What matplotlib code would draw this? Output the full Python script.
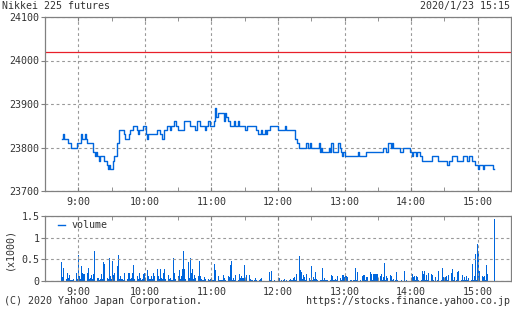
import numpy as np
from matplotlib import pyplot as plt
from matplotlib.lines import Line2D

plt.rcParams['font.family'] = 'DejaVu Sans Mono'
plt.rcParams['font.size'] = 7.2

# price steps (time, price)
price_times = ['8:45', '8:46', '8:47', '8:51', '8:53', '8:59', '9:02', '9:03', '9:06', '9:07',
               '9:08', '9:13', '9:15', '9:16', '9:17', '9:19', '9:20', '9:23', '9:26', '9:27',
               '9:28', '9:29', '9:31', '9:32', '9:35', '9:37', '9:41', '9:42', '9:46', '9:47',
               '9:49', '9:53', '9:54', '9:55', '9:58', '10:01', '10:02', '10:03', '10:11', '10:14',
               '10:15', '10:17', '10:20', '10:23', '10:24', '10:26', '10:28', '10:30', '10:35', '10:41',
               '10:45', '10:47', '10:50', '10:54', '10:55', '10:57', '10:59', '11:02', '11:03', '11:04',
               '11:06', '11:11', '11:12', '11:13', '11:15', '11:17', '11:20', '11:21', '11:24', '11:25',
               '11:30', '11:32', '11:40', '11:42', '11:45', '11:46', '11:48', '11:49', '11:50', '11:53',
               '12:00', '12:06', '12:07', '12:15', '12:17', '12:19', '12:25', '12:27', '12:29', '12:30',
               '12:37', '12:38', '12:39', '12:40', '12:46', '12:47', '12:48', '12:50', '12:54', '12:56',
               '12:57', '12:58', '12:59', '13:00', '13:12', '13:13', '13:19', '13:35', '13:37', '13:39',
               '13:42', '13:43', '13:44', '13:50', '13:53', '13:59', '14:01', '14:02', '14:04', '14:05',
               '14:08', '14:10', '14:19', '14:24', '14:32', '14:34', '14:37', '14:41', '14:47', '14:50',
               '14:52', '14:55', '14:58', '15:00', '15:01', '15:05', '15:06', '15:14', '15:15']
prices = [23820, 23830, 23820, 23810, 23800, 23810, 23830, 23820, 23830, 23820,
          23810, 23790, 23780, 23790, 23780, 23770, 23780, 23770, 23760, 23750,
          23760, 23750, 23770, 23780, 23810, 23840, 23830, 23820, 23830, 23840,
          23850, 23840, 23830, 23840, 23850, 23830, 23820, 23830, 23840, 23830,
          23820, 23840, 23850, 23840, 23850, 23860, 23850, 23840, 23860, 23850,
          23840, 23860, 23850, 23840, 23850, 23860, 23850, 23860, 23890, 23870,
          23880, 23860, 23880, 23870, 23860, 23850, 23860, 23850, 23860, 23850,
          23840, 23850, 23840, 23830, 23840, 23830, 23840, 23830, 23840, 23850,
          23840, 23850, 23840, 23820, 23810, 23800, 23810, 23800, 23810, 23800,
          23810, 23790, 23800, 23790, 23800, 23790, 23810, 23790, 23810, 23800,
          23790, 23780, 23790, 23780, 23790, 23780, 23790, 23800, 23790, 23810,
          23800, 23810, 23800, 23790, 23800, 23790, 23780, 23790, 23780, 23790,
          23780, 23770, 23780, 23770, 23760, 23770, 23780, 23770, 23780, 23770,
          23780, 23770, 23760, 23750, 23760, 23750, 23760, 23750, 23750]
prev_close = 24020

# volume per minute (x1000), rows of 15 minutes starting 8:45
vol_rows = [
    [0.44, 0.10, 0.29, 0.19, 0.05, 0.18, 0.08, 0.13, 0.03, 0.02, 0.03, 0.04, 0.10, 0.19, 0.05],  # 8:45
    [0.60, 0.12, 0.04, 0.35, 0.19, 0.16, 0.16, 0.16, 0.19, 0.31, 0.05, 0.08, 0.13, 0.05, 0.16],  # 9:00
    [0.70, 0.31, 0.08, 0.08, 0.03, 0.04, 0.16, 0.05, 0.44, 0.39, 0.05, 0.08, 0.04, 0.52, 0.12],  # 9:15
    [0.05, 0.47, 0.13, 0.19, 0.06, 0.35, 0.60, 0.04, 0.12, 0.04, 0.04, 0.03, 0.19, 0.12, 0.05],  # 9:30
    [0.19, 0.19, 0.04, 0.08, 0.19, 0.36, 0.05, 0.08, 0.12, 0.04, 0.19, 0.08, 0.03, 0.04, 0.16],  # 9:45
    [0.19, 0.08, 0.26, 0.12, 0.05, 0.04, 0.12, 0.04, 0.19, 0.12, 0.05, 0.27, 0.12, 0.04, 0.27],  # 10:00
    [0.08, 0.04, 0.19, 0.27, 0.05, 0.12, 0.13, 0.04, 0.08, 0.03, 0.02, 0.53, 0.19, 0.05, 0.53],  # 10:15
    [0.12, 0.25, 0.05, 0.12, 0.27, 0.70, 0.27, 0.05, 0.12, 0.43, 0.06, 0.54, 0.19, 0.27, 0.05],  # 10:30
    [0.13, 0.08, 0.04, 0.12, 0.47, 0.12, 0.04, 0.03, 0.02, 0.09, 0.04, 0.09, 0.05, 0.03, 0.04],  # 10:45
    [0.04, 0.02, 0.03, 0.39, 0.26, 0.03, 0.12, 0.02, 0.02, 0.03, 0.02, 0.13, 0.07, 0.03, 0.06],  # 11:00
    [0.12, 0.10, 0.36, 0.47, 0.03, 0.06, 0.03, 0.13, 0.06, 0.03, 0.17, 0.08, 0.12, 0.08, 0.07],  # 11:15
    [0.36, 0.03, 0.13, 0.08, 0.13, 0.05, 0.02, 0.02, 0.00, 0.02, 0.06, 0.02, 0.30, 0.02, 0.04],  # 11:30
    [0.08, 0.00, 0.00, 0.01, 0.00, 0.01, 0.00, 0.21, 0.02, 0.23, 0.00, 0.00, 0.02, 0.00, 0.00],  # 11:45
    [0.02, 0.06, 0.00, 0.02, 0.00, 0.02, 0.04, 0.00, 0.02, 0.13, 0.02, 0.04, 0.02, 0.03, 0.08],  # 12:00
    [0.09, 0.02, 0.17, 0.04, 0.58, 0.26, 0.20, 0.04, 0.13, 0.10, 0.03, 0.16, 0.02, 0.08, 0.03],  # 12:15
    [0.35, 0.02, 0.10, 0.04, 0.20, 0.04, 0.02, 0.29, 0.03, 0.02, 0.30, 0.02, 0.06, 0.02, 0.02],  # 12:30
    [0.02, 0.02, 0.02, 0.13, 0.12, 0.02, 0.03, 0.04, 0.02, 0.12, 0.02, 0.06, 0.02, 0.15, 0.13],  # 12:45
    [0.10, 0.12, 0.12, 0.10, 0.02, 0.03, 0.02, 0.00, 0.02, 0.03, 0.31, 0.02, 0.20, 0.22, 0.03],  # 13:00
    [0.00, 0.12, 0.15, 0.15, 0.02, 0.09, 0.09, 0.02, 0.20, 0.16, 0.03, 0.16, 0.16, 0.16, 0.16],  # 13:15
    [0.16, 0.03, 0.12, 0.16, 0.02, 0.09, 0.42, 0.03, 0.12, 0.06, 0.02, 0.14, 0.11, 0.02, 0.05],  # 13:30
    [0.00, 0.02, 0.20, 0.03, 0.00, 0.00, 0.02, 0.00, 0.00, 0.24, 0.00, 0.02, 0.00, 0.00, 0.03],  # 13:45
    [0.02, 0.16, 0.09, 0.12, 0.03, 0.11, 0.09, 0.03, 0.12, 0.03, 0.24, 0.16, 0.23, 0.02, 0.14],  # 14:00
    [0.02, 0.19, 0.19, 0.16, 0.14, 0.02, 0.00, 0.10, 0.00, 0.02, 0.23, 0.00, 0.02, 0.31, 0.10],  # 14:15
    [0.02, 0.10, 0.12, 0.02, 0.14, 0.03, 0.18, 0.28, 0.02, 0.10, 0.00, 0.02, 0.20, 0.23, 0.16],  # 14:30
    [0.02, 0.14, 0.02, 0.10, 0.03, 0.12, 0.02, 0.08, 0.10, 0.02, 0.40, 0.02, 0.12, 0.63, 0.03],  # 14:45
    [0.86, 0.67, 0.22, 0.63, 0.12, 0.09, 0.12, 0.03, 0.36, 0.16, 0.00, 0.00, 0.00, 0.00, 0.00],  # 15:00
    [1.42],  # 15:15
]
vol_start = '8:45'

hour_ticks = [9, 10, 11, 12, 13, 14, 15]
hour_labels = ['9:00', '10:00', '11:00', '12:00', '13:00', '14:00', '15:00']


def to_hours(s):
    h, m = s.split(':')
    return int(h) + int(m) / 60


blue = '#0066dd'
grid_c = '#999999'
spine_c = '#808080'
text_c = '#333333'

t_price = [to_hours(s) for s in price_times]
volume = np.concatenate([np.array(r) for r in vol_rows])
t_vol = to_hours(vol_start) + np.arange(len(volume)) / 60

fig = plt.figure(figsize=(5.12, 3.10), dpi=100)
ax1 = fig.add_axes([45/512, 1-191/310, 466/512, 174/310])
ax2 = fig.add_axes([45/512, 1-281/310, 466/512, 65/310])

ax1.plot(t_price, prices, color=blue, lw=1.0, drawstyle='steps-post')
ax1.axhline(prev_close, color='#e8202a', lw=0.9)
ax1.set_ylim(23700, 24100)
ax1.set_yticks([23700, 23800, 23900, 24000, 24100])

ax2.bar(t_vol, volume, width=0.8/60, color=blue, linewidth=0)
ax2.set_ylim(0, 1.5)
ax2.set_yticks([0, 0.5, 1, 1.5])
ax2.set_yticklabels(['0', '0.5', '1', '1.5'])
ax2.set_ylabel('(x1000)', color=text_c, labelpad=5)
ax2.legend(handles=[Line2D([], [], color=blue, lw=1.0)], labels=['volume'],
           loc='upper left', frameon=False, handlelength=0.7, handletextpad=0.6,
           borderaxespad=0.1, borderpad=0.3, fontsize=7.2, labelcolor=text_c,
           bbox_to_anchor=(0.02, 1.0))

for ax in (ax1, ax2):
    ax.set_xlim(8.5, 15.5)
    ax.set_xticks(hour_ticks)
    ax.set_xticks(np.arange(8.5, 15.6, 0.5), minor=True)
    ax.set_xticklabels(hour_labels)
    ax.grid(True, which='major', color=grid_c, linestyle=(0, (2.5, 2.5)), lw=0.8)
    ax.tick_params(axis='x', which='both', direction='in', top=True, bottom=True,
                   length=3, color=spine_c, labelcolor=text_c, pad=4)
    ax.tick_params(axis='y', direction='out', length=3, color=spine_c,
                   labelcolor=text_c, pad=1)
    for s in ax.spines.values():
        s.set_color(spine_c)
        s.set_linewidth(0.9)

fig.text(2/512, 1-6/310, 'Nikkei 225 futures', ha='left', va='center', color=text_c)
fig.text(510/512, 1-6/310, '2020/1/23 15:15', ha='right', va='center', color=text_c)
fig.text(4/512, 1-301/310, '(C) 2020 Yahoo Japan Corporation.', ha='left', va='center', color=text_c)
fig.text(510/512, 1-301/310, 'https://stocks.finance.yahoo.co.jp', ha='right', va='center', color=text_c)

fig.savefig('out.png', dpi=100)
